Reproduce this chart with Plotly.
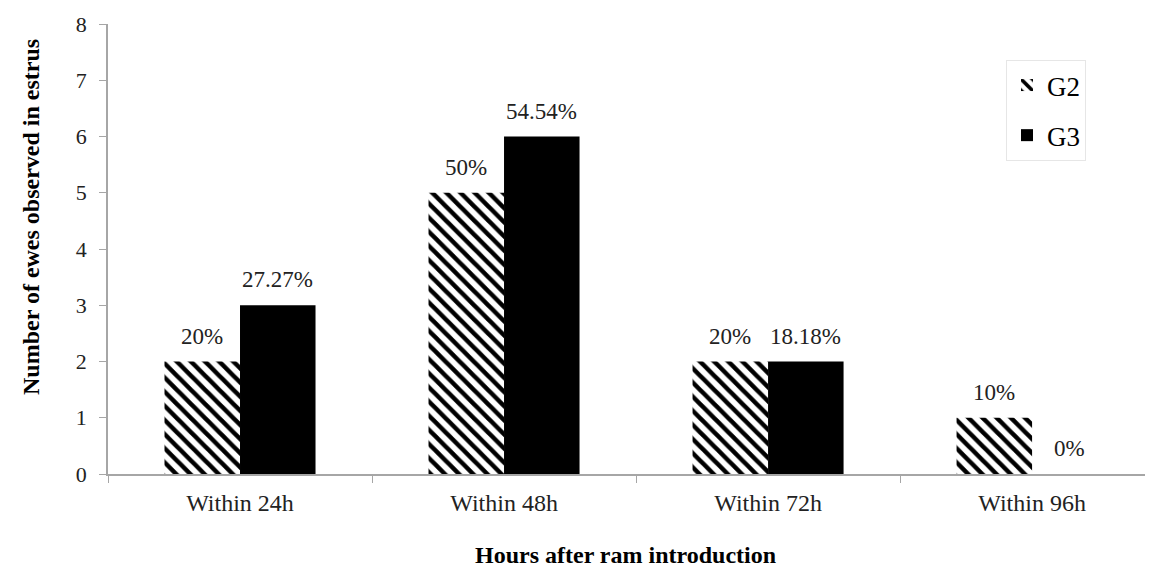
import plotly.graph_objects as go

categories = ["Within 24h", "Within 48h", "Within 72h", "Within 96h"]
g2_values = [2, 5, 2, 1]
g3_values = [3, 6, 2, 0]
g2_labels = ["20%", "50%", "20%", "10%"]
g3_labels = ["27.27%", "54.54%", "18.18%", "0%"]
y_ticks = [0, 1, 2, 3, 4, 5, 6, 7, 8]

FONT = "Liberation Serif"
OFF = 8  # page body margin offset
W, H = 1153 - OFF, 571 - OFF
ML, MR, MT, MB = 108 - OFF, 0, 24 - OFF, 97
PW, PH = W - ML - MR, H - MT - MB
BARGAP = 0.428


def px_x(sx):
    return (sx - OFF - ML) / PW


def px_y(sy):
    return (H - MB - (sy - OFF)) / PH


fig = go.Figure()
fig.add_trace(go.Bar(
    name="G2", x=categories, y=g2_values, legendgroup="g2",
    marker=dict(color="white", line=dict(width=0),
                pattern=dict(shape="\\", fgcolor="black", bgcolor="white",
                             fgopacity=1, size=10, solidity=0.45)),
))
fig.add_trace(go.Bar(
    name="G3", x=categories, y=g3_values, legendgroup="g3",
    marker=dict(color="black", line=dict(width=0)),
))

# percentage labels above bars
bw = (1 - BARGAP) / 2
for i, (v2, v3, l2, l3) in enumerate(zip(g2_values, g3_values, g2_labels, g3_labels)):
    for xo, v, l in ((i - bw / 2, v2, l2), (i + bw / 2, v3, l3)):
        fig.add_annotation(x=xo, y=v, xref="x", yref="y", text=l, showarrow=False,
                           yanchor="bottom", yshift=11,
                           font=dict(family=FONT, size=23, color="#222"))

fig.add_annotation(text="<b>Number of ewes observed in estrus</b>", textangle=-90,
                   xref="paper", yref="paper", x=px_x(31), y=px_y(217),
                   showarrow=False, xanchor="center", yanchor="middle",
                   font=dict(family=FONT, size=24, color="black"))
fig.add_annotation(text="<b>Hours after ram introduction</b>",
                   xref="paper", yref="paper", x=px_x(625), y=px_y(555),
                   showarrow=False, xanchor="center", yanchor="middle",
                   font=dict(family=FONT, size=24, color="black"))

fig.update_layout(
    width=W, height=H,
    margin=dict(l=ML, r=MR, t=MT, b=MB, pad=0),
    paper_bgcolor="white", plot_bgcolor="white",
    barmode="group", bargap=BARGAP, bargroupgap=0,
    font=dict(family=FONT, color="#222"),
    showlegend=True,
    legend=dict(x=px_x(1006), y=px_y(60),
                xanchor="left", yanchor="top",
                bordercolor="#e6e6e6", borderwidth=1, bgcolor="white",
                font=dict(family=FONT, size=27, color="black"),
                tracegroupgap=12, itemwidth=30,
                entrywidth=52, entrywidthmode="pixels"),
    xaxis=dict(range=[-0.5, 3.458], showline=True, linecolor="#a6a6a6", linewidth=1.5,
               ticks="outside", tickson="boundaries", ticklen=7, tickcolor="#a6a6a6",
               ticklabelstandoff=6,
               tickfont=dict(family=FONT, size=24, color="#222"), showgrid=False,
               zeroline=False),
    yaxis=dict(range=[0, 8], tickvals=y_ticks, showline=True, linecolor="#a6a6a6",
               linewidth=1.5, ticks="outside", ticklen=7, tickcolor="#a6a6a6",
               ticklabelstandoff=8,
               tickfont=dict(family=FONT, size=22, color="#222"), showgrid=False,
               zeroline=False),
)

fig.write_html("out.html")
